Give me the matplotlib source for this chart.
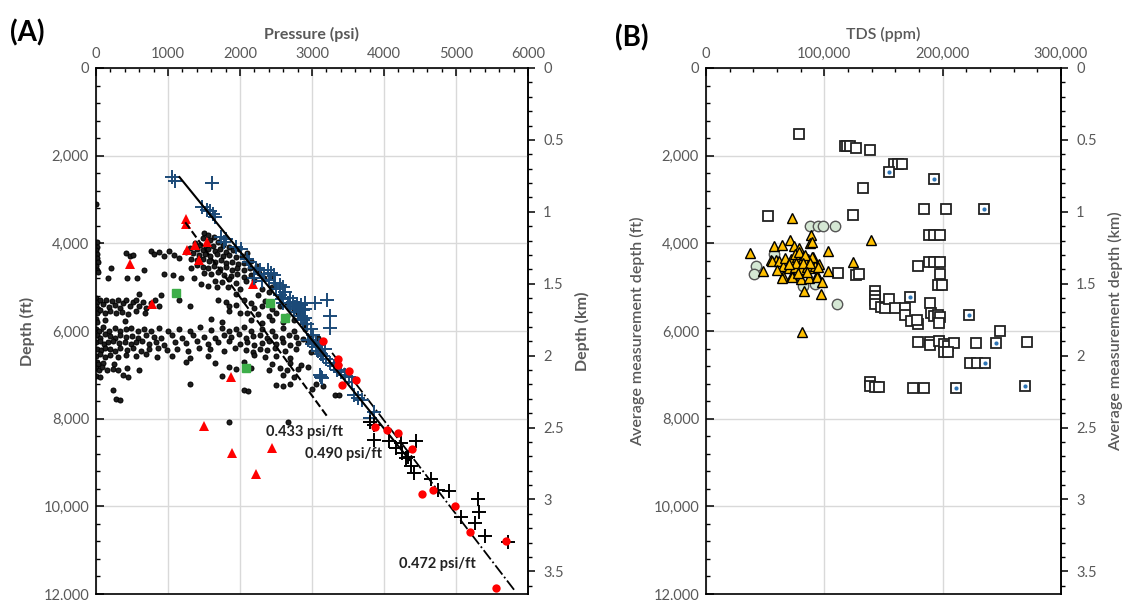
import matplotlib
matplotlib.use('Agg')
import matplotlib.pyplot as plt
from matplotlib.ticker import MultipleLocator, FuncFormatter

plt.rcParams['font.family'] = ['Lato', 'DejaVu Sans']
GRAY = '#595959'
GRID = '#d9d9d9'

# ---------------- panel A: pressure vs depth (psi, ft) ----------------
black_dots = [
    (0, 3100),
    # upper cluster near the dashed line
    (1500, 3760), (1560, 3800), (1640, 3850), (1480, 3880), (1590, 3930), (1700, 3960),
    (1380, 4000), (1450, 4030), (1530, 4050), (1620, 4070), (1760, 4040), (1850, 4080),
    (1300, 4100), (1400, 4120), (1480, 4150), (1560, 4140), (1650, 4170), (1720, 4130),
    (1800, 4190), (1900, 4160), (1980, 4120), (1250, 4200), (1350, 4230), (1430, 4260),
    (1510, 4240), (1590, 4280), (1680, 4250), (1760, 4300), (1850, 4270), (1940, 4320),
    (2030, 4290), (2100, 4230), (1320, 4350), (1410, 4380), (1490, 4360), (1570, 4400),
    (1650, 4420), (1730, 4390), (1810, 4450), (1890, 4430), (1970, 4470), (2060, 4440),
    (2150, 4400), (1400, 4500), (1480, 4530), (1560, 4560), (1640, 4520), (1720, 4580),
    (1800, 4550), (1890, 4600), (1960, 4570), (2050, 4620), (2140, 4560), (2230, 4520),
    (1500, 4680), (1600, 4700), (1700, 4660), (1780, 4720), (1870, 4750), (1960, 4700),
    (2060, 4760), (2160, 4730), (2260, 4680), (1650, 4850), (1750, 4880), (1850, 4820),
    (1950, 4900), (2080, 4870), (2200, 4830), (2330, 4800), (2430, 4750),
    # sparse band 4000-5000 ft
    (10, 3980), (15, 4080), (5, 4160), (20, 4240), (10, 4330), (25, 4420), (5, 4520),
    (15, 4600), (30, 4660), (420, 4230), (470, 4300), (520, 4260), (760, 4170),
    (800, 4250), (880, 4200), (950, 4300), (1010, 4180), (1080, 4260), (1150, 4330),
    (210, 4570), (170, 4790), (430, 4780), (570, 4790), (660, 4620), (950, 4700),
    (1070, 4720), (1180, 4790), (1320, 4560), (1360, 4800), (1460, 4920), (1550, 4980),
    (1680, 5000), (1830, 4990), (2000, 5040), (2300, 5050), (2450, 5000),
    # band 5100-5650 ft
    (600, 5150), (900, 5170), (1950, 5150), (2250, 5180), (2400, 5120), (2550, 5200),
    (0, 5250), (15, 5330), (5, 5420), (25, 5500), (10, 5580), (60, 5300), (100, 5380),
    (140, 5290), (180, 5450), (220, 5320), (260, 5400), (300, 5290), (340, 5470),
    (380, 5360), (420, 5300), (470, 5440), (520, 5350), (560, 5290), (600, 5420),
    (650, 5330), (700, 5480), (760, 5370), (820, 5300), (880, 5430), (60, 5520),
    (120, 5580), (200, 5540), (280, 5600), (360, 5560), (450, 5620), (550, 5540),
    (680, 5600), (1150, 5300), (1300, 5420), (1700, 5290), (1800, 5350), (1850, 5440),
    (1950, 5400), (2050, 5300), (2150, 5360), (2200, 5480), (2300, 5420), (2350, 5320),
    (2450, 5500), (2550, 5440), (2650, 5380), (2750, 5520), (1850, 5550), (2000, 5600),
    (2100, 5580), (2250, 5620), (2400, 5650), (2500, 5600), (2650, 5660), (2800, 5600),
    # band 5700-5850 ft
    (0, 5720), (20, 5800), (120, 5760), (400, 5780), (1600, 5730), (1750, 5800),
    (2150, 5760), (2300, 5820), (2450, 5740), (2600, 5800), (2750, 5760), (2900, 5830),
    # dense band 5900-6650 ft
    (0, 5950), (40, 5990), (100, 5920), (180, 6000), (260, 5940), (330, 6010), (410, 5960),
    (490, 5930), (580, 6000), (660, 5950), (760, 5990), (880, 5930), (1000, 6010),
    (1150, 5960), (1300, 5990), (1450, 5920), (1600, 5980), (1750, 5940), (1850, 6010),
    (1950, 5960), (2050, 5920), (2150, 6000), (2300, 5950), (2450, 5990), (2600, 5930),
    (2750, 6000), (2900, 5960),
    (10, 6100), (60, 6150), (120, 6080), (190, 6120), (260, 6170), (340, 6090), (420, 6140),
    (500, 6110), (590, 6160), (690, 6090), (800, 6130), (900, 6170), (1050, 6100),
    (1200, 6150), (1350, 6090), (1500, 6130), (1650, 6170), (1780, 6100), (1880, 6140),
    (1980, 6080), (2080, 6160), (2180, 6120), (2280, 6090), (2380, 6150), (2480, 6110),
    (2580, 6170), (2680, 6100), (2780, 6140), (2880, 6180), (2980, 6120), (3080, 6160),
    (0, 6260), (50, 6230), (110, 6290), (170, 6250), (240, 6220), (320, 6280), (400, 6240),
    (480, 6300), (560, 6260), (640, 6220), (730, 6290), (830, 6250), (950, 6310),
    (1100, 6240), (1250, 6280), (1400, 6230), (1550, 6300), (1700, 6260), (1850, 6220),
    (2000, 6290), (2100, 6250), (2200, 6320), (2300, 6270), (2400, 6230), (2500, 6300),
    (2600, 6260), (2700, 6330), (2800, 6280), (2950, 6240), (3050, 6310),
    (20, 6400), (70, 6440), (130, 6380), (190, 6420), (260, 6460), (340, 6390), (430, 6430),
    (520, 6380), (630, 6450), (740, 6410), (860, 6380), (980, 6440), (1130, 6400),
    (1280, 6460), (1430, 6390), (1580, 6420), (1780, 6450), (1930, 6390), (2080, 6430),
    (2180, 6470), (2280, 6400), (2380, 6440), (2480, 6380), (2630, 6460), (2780, 6420),
    (2980, 6480), (3130, 6440),
    (0, 6560), (60, 6520), (130, 6590), (200, 6540), (300, 6600), (420, 6550), (550, 6580),
    (700, 6530), (850, 6600), (1050, 6560), (1300, 6620), (1550, 6580), (2200, 6550),
    (2350, 6600), (2500, 6560), (2700, 6620),
    (10, 6700), (30, 6750), (100, 6720), (250, 6760), (1250, 6700), (1650, 6740),
    (2050, 6700), (2450, 6760), (2700, 6720), (2850, 6780),
    (0, 6850), (40, 6900), (90, 6830), (150, 6880), (230, 6860), (310, 6900), (430, 6840),
    (600, 6890), (1850, 6830), (1950, 6870), (2150, 6840), (2400, 6880), (2550, 6850),
    (2650, 6900), (2800, 6860), (2950, 6830),
    # deeper scattered dots
    (0, 7020), (60, 7060), (380, 7000), (450, 7040), (1750, 7020), (2600, 7000),
    (2750, 7050), (1300, 7200), (2500, 7230), (2600, 7250), (2700, 7220), (3050, 7200),
    (3150, 7250), (230, 7350), (2050, 7350), (2110, 7360), (3000, 7330), (280, 7560),
    (330, 7580), (3320, 7460), (3380, 7470), (1850, 8070), (2670, 8070),
]

blue_crosses = [
    (1050, 2490), (1100, 2570), (1613, 2620), (1475, 3180), (1540, 3230), (1590, 3270),
    (1620, 3340), (1660, 3400), (1730, 3860), (1780, 3970), (1800, 3900), (1940, 4085),
    (2010, 4120), (2100, 4350), (2130, 4430), (2220, 4570), (2280, 4620), (2330, 4700),
    (2390, 4600), (2430, 4680), (2470, 4730), (2200, 4800), (2300, 4850), (2400, 4830),
    (2480, 4900), (2550, 4960), (2600, 5000), (2500, 5050), (2620, 5120), (2550, 5190),
    (2700, 5250), (2580, 5280), (2600, 5370), (2670, 5370), (2700, 5420), (2730, 5330),
    (2760, 5450), (2790, 5380), (2820, 5480), (2850, 5400), (2880, 5520), (2900, 5360),
    (2910, 5500), (2750, 5500), (2800, 5560), (2850, 5650), (2900, 5700), (3040, 5370),
    (3210, 5300), (3250, 5650), (3250, 5940), (2880, 5760), (2930, 5850), (2980, 5960),
    (3020, 6100), (2950, 6210), (3000, 6300), (3060, 6250), (3100, 6320), (3050, 6370),
    (3080, 6460), (3130, 6520), (3180, 6400), (3160, 6580), (3200, 6640), (3250, 6740),
    (3300, 6790), (3350, 6880), (3400, 6930), (3460, 7000), (3520, 7060), (3560, 7170),
    (3110, 7010), (3140, 7080), (3130, 7050), (3580, 7460), (3640, 7520), (3700, 7570),
    (3860, 7850), (3800, 7980),
]

black_crosses = [
    (3810, 8070), (3860, 8140), (3858, 8480), (4069, 8520), (4232, 8560), (4442, 8520),
    (4162, 8670), (4255, 8790), (4302, 8900), (4330, 8870), (4372, 9090), (4419, 9240),
    (4652, 9380), (4746, 9620), (4910, 9660), (5307, 9830), (5321, 10140), (5073, 10250),
    (5261, 10370), (5401, 10670), (5728, 10820),
]

red_circles = [
    (3147, 6224), (3357, 6641), (3357, 6777), (3521, 6906), (3615, 7118), (3414, 7232),
    (3881, 8200), (4045, 8256), (4195, 8331), (4387, 8695), (4527, 9712), (4686, 9621),
    (4981, 9985), (5191, 10592), (5691, 10797), (5556, 11857),
]

red_triangles = [
    (1245, 3554), (1250, 3450), (1378, 4047), (1540, 3972), (1270, 4146), (1431, 4389),
    (467, 4480), (780, 5375), (1870, 7058), (1505, 8170), (1894, 8787), (2441, 8673),
    (2221, 9264), (2183, 4919),
]

green_squares = [(1108, 5132), (2422, 5351), (2628, 5701), (2090, 6845)]

# gradient lines: (pressure, depth) end points
line_490 = [(1160, 2490), (4355, 8940)]
line_433 = [(1240, 3520), (3230, 7990)]
line_472 = [(3280, 6500), (3975, 7985), (5826, 11943)]

# ---------------- panel B: TDS vs depth (ppm, ft) ----------------
squares = [
    (78.5, 1509), (117.5, 1776), (119.5, 1776), (121.9, 1776), (127.1, 1821), (138.4, 1874),
    (159.3, 2195), (162.3, 2195), (165.4, 2195), (132.8, 2728), (124.4, 3360), (52, 3383),
    (184.4, 3207), (202.5, 3207), (188.4, 3818), (193, 3818), (198.1, 3818), (178.8, 4517),
    (188.4, 4426), (193, 4426), (198.1, 4426), (198.1, 4709), (196, 4960), (199.6, 4960),
    (111.4, 4670), (127, 4730), (129, 4700), (143.1, 5090), (143.1, 5200), (143.1, 5300),
    (143.1, 5380), (148, 5460), (151, 5470), (155, 5280), (159.8, 5480), (168.6, 5470),
    (168.6, 5640), (173, 5770), (179, 5840), (178, 5750), (189, 5365), (190, 5600),
    (193, 5650), (196, 5640), (198, 5680), (197, 5820), (248.4, 6010), (179, 6245),
    (189.3, 6250), (189.3, 6330), (197, 6230), (201, 6300), (204.6, 6340), (209.4, 6280),
    (228.3, 6270), (271.2, 6240), (201, 6480), (204.6, 6480), (223, 6720), (229, 6720),
    (139, 7170), (139, 7250), (143, 7285), (146, 7285), (174.6, 7300), (184.4, 7300),
]
squares_dot = [
    (155.1, 2370), (192.7, 2522), (235.3, 3207), (172.8, 5230), (222, 5630),
    (245, 6280), (236, 6720), (211.6, 7300), (270, 7250),
]
triangles = [
    (72.9, 3414), (36.8, 4210), (48.5, 4640), (54.9, 4380), (59.1, 4390), (57.5, 4070),
    (64.6, 4030), (70.9, 3915), (74.3, 4070), (78.5, 4100), (89.1, 3800), (87.7, 3990),
    (90, 3960), (103, 4180), (90.2, 4320), (95.8, 4465), (103, 4640), (93.8, 4730),
    (65.5, 4745), (72.9, 4730), (82.9, 5095), (96.9, 5150), (81.3, 6030), (124.4, 4425),
    (139.8, 3915), (56, 4410), (62, 4410), (65, 4520), (70, 4560), (75, 4530), (80, 4590),
    (85, 4540), (88, 4570), (92, 4520), (95, 4550), (66.5, 4330), (72, 4350), (77, 4310),
    (82, 4340), (86, 4360), (90, 4320), (75, 4240), (79, 4200), (84, 4260), (64, 4780),
    (73, 4760), (80, 4810), (87, 4790), (94, 4760), (98, 4890), (76, 4440), (82, 4450),
    (70, 4470), (88, 4460), (60, 4600), (78, 4680), (85, 4650),
]
circles = [
    (88.3, 3612), (95, 3612), (99.2, 3612), (108.9, 3612), (57.5, 4240), (42.3, 4520),
    (40.4, 4709), (82.1, 4975), (91.9, 4920), (110.5, 5380),
]


def xs(pts, scale=1.0):
    return [p[0] * scale for p in pts]


def ys(pts):
    return [p[1] for p in pts]


def ft2km(d):
    return d * 0.0003048


def km2ft(k):
    return k / 0.0003048


def style_axes(ax, xmax, xmaj, xmin, xfmt, xlabel, ylabel, y2label, bold):
    w = 'bold' if bold else 'semibold'
    ax.set_xlim(0, xmax)
    ax.set_ylim(12000, 0)
    ax.xaxis.tick_top()
    ax.xaxis.set_label_position('top')
    ax.xaxis.set_major_locator(MultipleLocator(xmaj))
    ax.xaxis.set_minor_locator(MultipleLocator(xmin))
    ax.xaxis.set_major_formatter(FuncFormatter(xfmt))
    ax.yaxis.set_major_locator(MultipleLocator(2000))
    ax.yaxis.set_minor_locator(MultipleLocator(400))
    ax.yaxis.set_major_formatter(FuncFormatter(lambda v, p: f'{int(v):,}'))
    ax.tick_params(which='both', direction='in', colors='black', labelcolor=GRAY,
                   labelsize=10.5, top=True, bottom=False, right=False)
    ax.tick_params(which='major', length=6, width=1.1, pad=5)
    ax.tick_params(which='minor', length=3, width=1)
    ax.grid(True, which='major', color=GRID, lw=1)
    ax.set_axisbelow(True)
    for s in ax.spines.values():
        s.set_linewidth(1.2)
        s.set_color('black')
    ax.set_xlabel(xlabel, color=GRAY, fontsize=11.5, fontweight=w, labelpad=6)
    ax.set_ylabel(ylabel, color=GRAY, fontsize=11.5, fontweight=w, labelpad=6)
    sec = ax.secondary_yaxis('right', functions=(ft2km, km2ft))
    sec.yaxis.set_major_locator(MultipleLocator(0.5))
    sec.yaxis.set_minor_locator(MultipleLocator(0.1))
    sec.yaxis.set_major_formatter(FuncFormatter(lambda v, p: f'{v:g}'))
    sec.tick_params(which='both', direction='out', colors='black', labelcolor=GRAY,
                    labelsize=10.5)
    sec.tick_params(which='major', length=5, width=1.1, pad=6)
    sec.tick_params(which='minor', length=3, width=1)
    sec.spines['right'].set_linewidth(1.2)
    sec.set_ylabel(y2label, color=GRAY, fontsize=11.5, fontweight=w, labelpad=8)


fig = plt.figure(figsize=(11.24, 6), dpi=100)
axA = fig.add_axes([0.0854, 0.01, 0.3843, 0.8767])
axB = fig.add_axes([0.6281, 0.01, 0.3158, 0.8767])

# panel A
axA.plot(xs(black_dots), ys(black_dots), 'o', ms=3.6, mfc='#1e1e1e', mec='black',
         mew=0.7, zorder=2)
axA.plot(xs(green_squares), ys(green_squares), 's', ms=5.5, color='#3dae49', zorder=3)
axA.plot(xs(red_triangles), ys(red_triangles), '^', ms=6.5, color='#ff0000', mew=0,
         zorder=3)
axA.plot(xs(line_433), ys(line_433), '--', color='black', lw=1.5, zorder=4)
axA.plot(xs(line_472), ys(line_472), '-.', color='black', lw=1.3, zorder=4)
axA.plot(xs(blue_crosses), ys(blue_crosses), '+', ms=10, mew=1.4, color='#1b4a78',
         zorder=5)
axA.plot(xs(black_crosses), ys(black_crosses), '+', ms=10, mew=1.4, color='black',
         zorder=5)
axA.plot(xs(line_490), ys(line_490), '-', color='black', lw=1.5, zorder=6)
axA.plot(xs(red_circles), ys(red_circles), 'o', ms=6, color='#ff0000', mew=0, zorder=6)

axA.text(2360, 8300, '0.433 psi/ft', fontsize=10.5, fontweight='bold', va='center',
         color='#222222', zorder=7)
axA.text(2910, 8800, '0.490 psi/ft', fontsize=10.5, fontweight='bold', va='center',
         color='#222222', zorder=7)
axA.text(4210, 11310, '0.472 psi/ft', fontsize=10.5, fontweight='bold', va='center',
         color='#222222', zorder=7)

style_axes(axA, 6000, 1000, 200, lambda v, p: f'{int(v)}', 'Pressure (psi)',
           'Depth (ft)', 'Depth (km)', True)

# panel B (TDS listed in thousands of ppm)
K = 1000.0
axB.plot(xs(squares, K), ys(squares), 's', ms=7, mfc='white', mec='#222222', mew=1.3,
         zorder=3)
axB.plot(xs(squares_dot, K), ys(squares_dot), 's', ms=7, mfc='white', mec='#222222',
         mew=1.3, zorder=3)
axB.plot(xs(squares_dot, K), ys(squares_dot), 'o', ms=3, color='#2e75b6', mew=0,
         zorder=4)
axB.plot(xs(circles, K), ys(circles), 'o', ms=7.5, mfc='#d5e8d4', mec='#555555',
         mew=1, zorder=4)
axB.plot(xs(triangles, K), ys(triangles), '^', ms=7, mfc='#ffc000', mec='black',
         mew=1, zorder=5)

style_axes(axB, 300000, 100000, 20000, lambda v, p: f'{int(v):,}', 'TDS (ppm)',
           'Average measurement depth (ft)', 'Average measurement depth (km)', False)

fig.text(0.0089, 0.945, '(A)', fontsize=20, fontweight='bold', va='center')
fig.text(0.547, 0.937, '(B)', fontsize=20, fontweight='bold', va='center')

fig.savefig('out.png', dpi=100)
